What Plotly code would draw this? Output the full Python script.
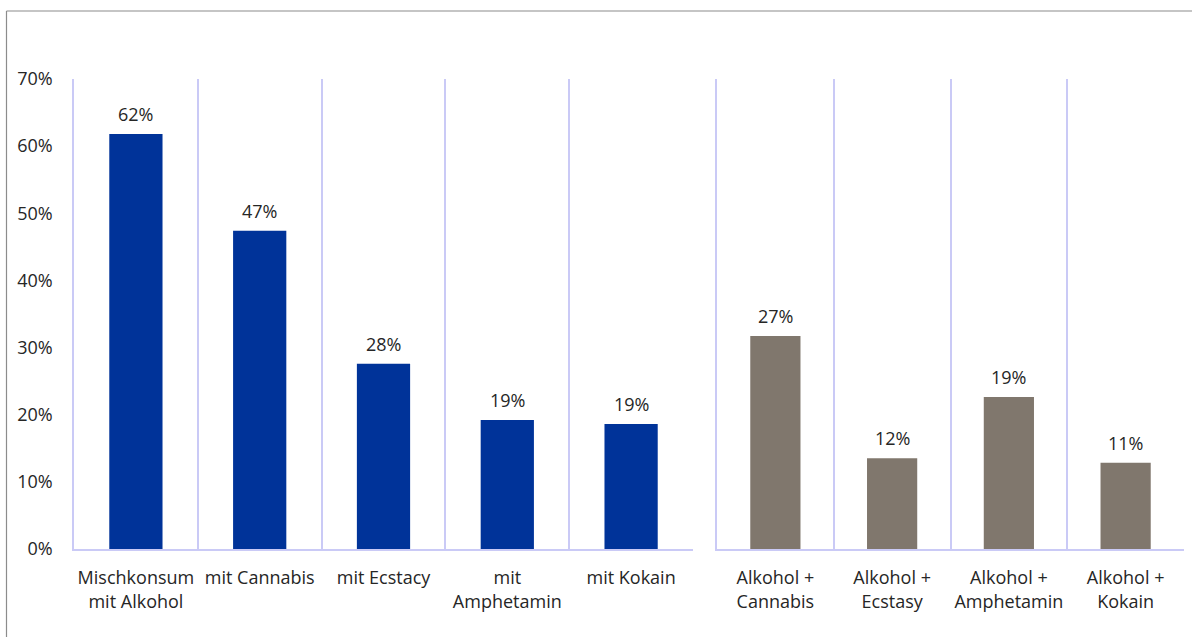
import plotly.graph_objects as go

# Single substances combined with other drugs (left) and alcohol combinations (right)
mix_categories = ["Mischkonsum<br>mit Alkohol", "mit Cannabis", "mit Ecstacy",
                  "mit<br>Amphetamin", "mit Kokain"]
mix_values = [0.618, 0.474, 0.276, 0.192, 0.186]

combo_categories = ["Alkohol +<br>Cannabis", "Alkohol +<br>Ecstasy",
                    "Alkohol +<br>Amphetamin", "Alkohol +<br>Kokain"]
combo_values = [0.272, 0.116, 0.194, 0.110]

left_ticks = [0, 0.1, 0.2, 0.3, 0.4, 0.5, 0.6, 0.7]

BLUE = "#003399"
TAUPE = "#80776d"
GRID = "#cacaf6"
TEXT = "#262626"
FONT = "Open Sans"
FSIZE = 18

W, H = 1192, 637
ML, MR, MT, MB = 74, 8, 79, 88
plot_w = W - ML - MR
plot_h = H - MT - MB

def px_x(px):
    return (px - ML) / plot_w

def px_y(py):
    return (H - MB - py) / plot_h

fig = go.Figure()

fig.add_trace(go.Bar(
    x=mix_categories, y=mix_values, xaxis="x", yaxis="y",
    marker=dict(color=BLUE, line=dict(width=0)),
    hoverinfo="skip", showlegend=False,
))

fig.add_trace(go.Bar(
    x=combo_categories, y=combo_values, xaxis="x2", yaxis="y2",
    marker=dict(color=TAUPE, line=dict(width=0)),
    hoverinfo="skip", showlegend=False,
))

# Value labels above each bar
annotations = []
for xref, yref, cats, vals in (("x", "y", mix_categories, mix_values),
                               ("x2", "y2", combo_categories, combo_values)):
    for c, v in zip(cats, vals):
        annotations.append(dict(
            x=c, y=v, xref=xref, yref=yref, text=f"{v:.0%}",
            showarrow=False, yanchor="bottom", yshift=6,
            font=dict(family=FONT, size=FSIZE, color=TEXT),
        ))

x_common = dict(
    type="category", tickson="boundaries", showgrid=True, gridcolor=GRID,
    gridwidth=1.5, showline=True, linecolor=GRID, linewidth=1.5,
    ticks="", ticklabelstandoff=12, tickangle=0, automargin=False,
    tickfont=dict(family=FONT, size=FSIZE, color=TEXT),
    zeroline=False, fixedrange=True,
)

fig.update_layout(
    width=W, height=H,
    margin=dict(l=ML, r=MR, t=MT, b=MB, autoexpand=False),
    paper_bgcolor="white", plot_bgcolor="white",
    bargap=0.57,
    font=dict(family=FONT, color=TEXT),
    xaxis=dict(domain=[0, px_x(693)], anchor="y", **x_common),
    xaxis2=dict(domain=[px_x(717), 1], anchor="y2", **x_common),
    yaxis=dict(
        range=[0, 0.7], tickvals=left_ticks, tickformat=".0%",
        showgrid=False, zeroline=False, showline=True, linecolor=GRID,
        linewidth=1.5, ticks="", ticklabelstandoff=16, automargin=False,
        tickfont=dict(family=FONT, size=FSIZE, color=TEXT), anchor="x",
    ),
    yaxis2=dict(
        range=[0, 0.6], showgrid=False, zeroline=False, showline=True,
        linecolor=GRID, linewidth=1.5, showticklabels=False, ticks="",
        automargin=False, anchor="x2",
    ),
    annotations=annotations,
    shapes=[
        dict(type="line", xref="paper", yref="paper",
             x0=px_x(6.5), x1=px_x(W + 5), y0=px_y(11), y1=px_y(11),
             line=dict(color="#8c8c8c", width=1.2)),
        dict(type="line", xref="paper", yref="paper",
             x0=px_x(6.5), x1=px_x(6.5), y0=px_y(11), y1=px_y(H + 5),
             line=dict(color="#8c8c8c", width=1.2)),
    ],
)

fig.write_html("out.html")
